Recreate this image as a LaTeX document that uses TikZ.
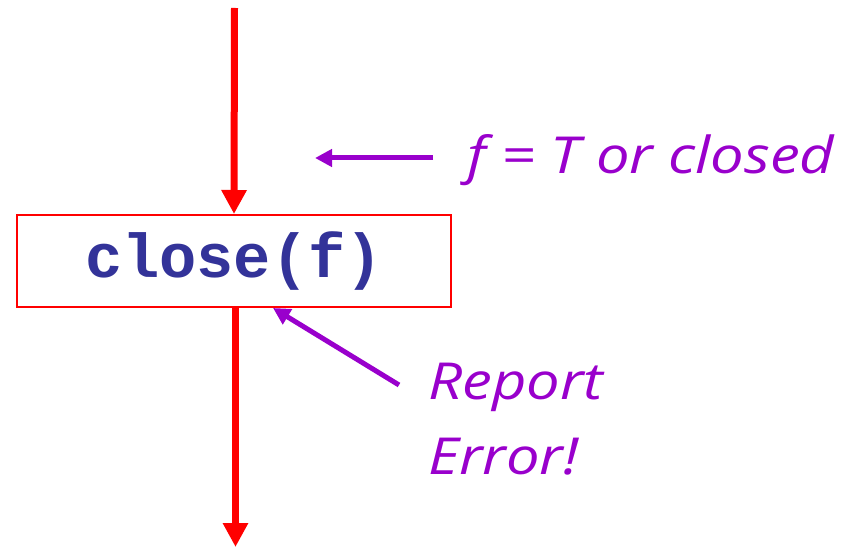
\documentclass[tikz,border=0pt]{standalone}
\usepackage{fontspec}
\setmainfont{Open Sans}
\newfontfamily\labelfont[FakeStretch=1.17]{Open Sans}
\newfontfamily\codefont{Liberation Mono}
\usetikzlibrary{arrows.meta}
\definecolor{flowred}{HTML}{FF0000}
\definecolor{notepurple}{HTML}{9900CC}
\definecolor{codeblue}{HTML}{333399}
\tikzset{
  flow/.style={draw=flowred, line width=7pt, -{Triangle[length=24pt,width=24pt]}},
  note/.style={draw=notepurple, line width=5pt, -{Triangle[length=17pt,width=17pt]}},
  notetext/.style={text=notepurple, font=\labelfont\itshape\fontsize{51}{75}\selectfont, inner sep=0pt},
  codebox/.style={draw=flowred, line width=2pt, minimum width=434pt, minimum height=92pt, inner sep=0pt,
    text=codeblue, font=\codefont\bfseries\fontsize{62}{62}\selectfont}
}
\begin{document}
\begin{tikzpicture}[x=1pt,y=-1pt]
\useasboundingbox (0,0) rectangle (852,548);
\node[codebox] (box) at (234,261) {close(f)};
\coordinate (top) at (234.5,8);
\coordinate (bot) at (235.5,547);
\draw[flow] (top) -- (box.north);
\draw[flow] (box.south -| bot) -- (bot);
\coordinate (n1tail) at (433,158);
\coordinate (n1tip) at (315,158);
\draw[note] (n1tail) -- (n1tip);
\coordinate (n2tail) at (399,385);
\coordinate (n2tip) at (273,308);
\draw[note] (n2tail) -- (n2tip);
\node[notetext, anchor=base west] (cond) at (467,174) {f = T or closed};
\node[notetext, anchor=north west, align=left] (err) at (428,363) {Report\\Error!};
\end{tikzpicture}
\end{document}
